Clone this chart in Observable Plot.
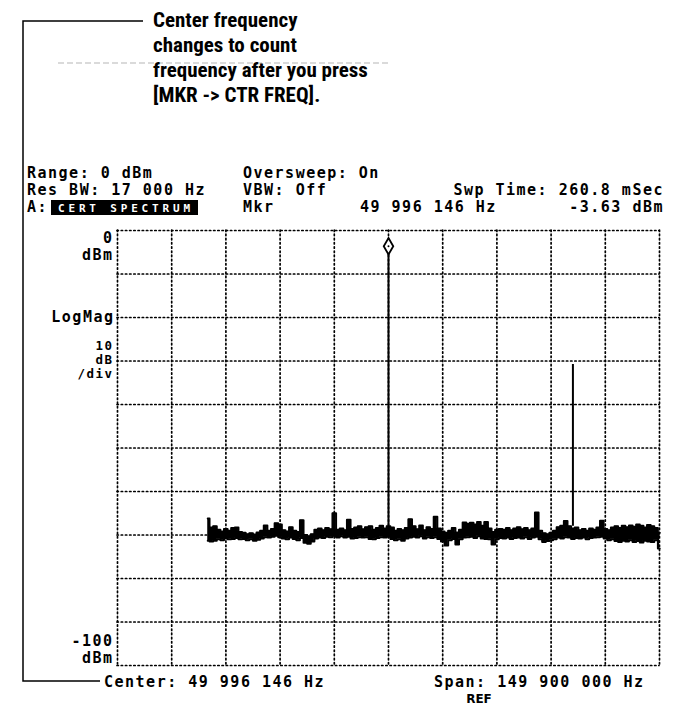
<!DOCTYPE html>
<html>
<head>
<meta charset="utf-8">
<script src="https://cdn.jsdelivr.net/npm/d3@7"></script>
<script src="https://cdn.jsdelivr.net/npm/@observablehq/plot@0.6"></script>
<style>
  html, body { margin: 0; padding: 0; background: #fff; }
  #chart { width: 683px; height: 706px; }
  .mono { font-family: "DejaVu Sans Mono", monospace; font-weight: bold; font-size: 15px; letter-spacing: 1.5px; }
  g[font-family^="DejaVu Sans Mono"] text { letter-spacing: 1.5px; }
</style>
</head>
<body>
<div id="chart"></div>
<script>
// ---- Instrument settings (from the screen) ----
const centerMHz = 49.996146;      // Center: 49 996 146 Hz
const spanMHz = 149.9;            // Span: 149 900 000 Hz
const refLevelDbm = 0;            // top of screen: 0 dBm
const dbPerDiv = 10;              // 10 dB /div
const yTicks = [0, -10, -20, -30, -40, -50, -60, -70, -80, -90, -100];

// ---- Annotation & screen texts ----
const noteLines = ["Center frequency", "changes to count", "frequency after you press", "[MKR -> CTR FREQ]."];
const headerLeft = ["Range: 0 dBm", "Res BW: 17 000 Hz", "A:"];
const headerMid = ["Oversweep: On", "VBW: Off", "Mkr"];
const traceName = "CERT SPECTRUM";
const swpTime = "Swp Time: 260.8 mSec";
const mkrFreq = "49 996 146 Hz";
const mkrLevel = "-3.63 dBm";
const footerCenter = "Center: 49 996 146 Hz";
const footerSpan = "Span: 149 900 000 Hz";
const footerRef = "REF";

// ---- Trace: sweep starts at 0 Hz, one sample per MHz ----
const sweepStartMHz = 0;
const sweepStepMHz = 1;
const noiseHiDbm = [-66.2,-68.3,-68.0,-68.8,-69.2,-68.6,-69.0,-68.4,-68.3,-69.3,
-69.5,-69.8,-69.6,-69.9,-69.4,-69.0,-67.8,-69.0,-68.6,-67.3,
-67.6,-68.9,-69.2,-68.2,-69.0,-69.3,-66.6,-70.0,-70.3,-69.8,
-68.8,-68.5,-68.9,-68.4,-68.7,-65.0,-68.8,-68.5,-68.9,-66.5,
-68.6,-68.3,-68.0,-68.7,-68.2,-68.0,-68.8,-68.4,-67.9,-68.5,
-68.0,-68.3,-69.0,-68.6,-68.9,-68.4,-66.4,-68.0,-68.7,-67.8,
-68.9,-68.2,-68.6,-65.8,-68.5,-69.2,-69.5,-69.0,-68.4,-69.4,
-68.8,-67.1,-67.4,-67.2,-67.6,-67.0,-67.9,-67.0,-68.5,-69.3,
-68.8,-68.6,-68.8,-68.4,-68.9,-68.5,-68.2,-68.7,-68.4,-68.9,
-68.5,-64.8,-69.0,-69.6,-69.8,-69.5,-69.0,-68.2,-67.9,-66.8,
-68.0,-68.5,-68.3,-68.9,-68.6,-69.0,-68.5,-68.8,-68.3,-66.7,
-68.6,-68.9,-68.3,-68.0,-68.4,-67.9,-68.2,-67.8,-68.1,-67.6,
-67.9,-68.3,-67.7,-68.0,-68.4,-69.5];
const noiseLoDbm = [-71.3,-71.5,-71.3,-71.0,-71.2,-70.8,-71.0,-70.9,-70.7,-71.0,
-70.9,-71.2,-71.0,-71.3,-71.1,-70.8,-70.5,-70.6,-70.4,-70.2,
-70.5,-70.8,-71.0,-70.6,-70.9,-71.2,-70.7,-71.8,-72.0,-71.5,
-70.8,-70.6,-70.7,-70.4,-70.5,-70.2,-70.6,-70.3,-70.6,-70.4,
-70.8,-70.7,-70.5,-70.6,-70.5,-70.9,-71.0,-70.7,-70.5,-70.6,
-70.4,-70.9,-71.2,-71.0,-71.3,-70.8,-70.6,-70.4,-70.6,-70.3,
-70.8,-70.5,-70.7,-70.5,-70.9,-71.5,-72.4,-71.2,-70.9,-72.2,
-71.0,-70.6,-70.5,-70.4,-70.7,-70.3,-70.8,-70.9,-71.0,-72.2,
-71.0,-70.7,-70.8,-70.6,-70.9,-70.7,-70.6,-70.8,-70.5,-70.9,
-70.6,-70.4,-71.0,-71.6,-71.4,-71.2,-71.0,-70.6,-70.8,-70.5,
-70.6,-70.9,-70.7,-70.8,-70.6,-71.0,-70.7,-70.6,-70.5,-70.4,
-70.8,-71.2,-71.0,-71.4,-71.6,-71.3,-71.5,-71.2,-71.6,-71.4,
-71.7,-71.3,-71.5,-71.6,-71.2,-73.1];

// ---- Signal peaks ----
const peakFreqMHz = [49.996146, 101.0];
const peakLevelDbm = [-3.63, -30.8];
const peakBaseDbm = [-68.0, -68.0];

// ---- Build tables ----
const noise = noiseHiDbm.map((hi, i) => ({f: sweepStartMHz + i * sweepStepMHz, hi, lo: noiseLoDbm[i]}));
const peaks = peakFreqMHz.map((f, i) => ({f, level: peakLevelDbm[i], base: peakBaseDbm[i]}));
const xDomain = [centerMHz - spanMHz / 2, centerMHz + spanMHz / 2];
const xGrid = d3.range(11).map(k => xDomain[0] + k * spanMHz / 10);
const yDomain = [refLevelDbm - 10 * dbPerDiv, refLevelDbm];

const W = 683, H = 706;
const mono = "DejaVu Sans Mono";
const dots = "1.4,2.8";

const svg = Plot.plot({
  width: W, height: H,
  marginLeft: 117, marginRight: 24, marginTop: 230, marginBottom: 41,
  x: {domain: xDomain, axis: null},
  y: {domain: yDomain, axis: null},
  style: {background: "#fff", color: "#000", fontFamily: mono, fontSize: "15px", fontWeight: "bold", overflow: "visible"},
  marks: [
    Plot.ruleX(xGrid, {stroke: "#000", strokeWidth: 1.7, strokeDasharray: dots, strokeLinecap: "round"}),
    Plot.ruleY(yTicks, {stroke: "#000", strokeWidth: 1.7, strokeDasharray: dots, strokeLinecap: "round"}),
    // noise band
    Plot.areaY(noise, {x: "f", y1: "lo", y2: "hi", curve: "step", fill: "#000"}),
    Plot.line(noise, {x: "f", y: "hi", curve: "step", stroke: "#000", strokeWidth: 2}),
    Plot.line(noise, {x: "f", y: "lo", curve: "step", stroke: "#000", strokeWidth: 2}),
    // peaks
    Plot.ruleX(peaks, {x: "f", y1: "base", y2: "level", stroke: "#000", strokeWidth: 2}),
    Plot.dot(peaks.slice(0, 1), {x: "f", y: "level", symbol: "diamond", r: 5, fill: "#fff", stroke: "#000", strokeWidth: 1.8}),
    Plot.dot(peaks.slice(0, 1), {x: "f", y: "level", r: 1, fill: "#000"}),
    // y labels
    Plot.text(["0\ndBm"], {x: xDomain[0], y: yTicks[0], text: d => d, textAnchor: "end", lineAnchor: "top", dx: -4, dy: 1, lineHeight: 1.1, fontFamily: mono, fontSize: 15, fontWeight: "bold"}),
    Plot.text(["LogMag"], {x: xDomain[0], y: yTicks[2], text: d => d, textAnchor: "end", lineAnchor: "middle", dx: -3, fontFamily: mono, fontSize: 15, fontWeight: "bold"}),
    Plot.text(["10\ndB\n/div"], {x: xDomain[0], y: yTicks[2], text: d => d, textAnchor: "end", lineAnchor: "top", dx: -4, dy: 22, lineHeight: 1.14, fontFamily: mono, fontSize: 12.5, fontWeight: "bold"}),
    Plot.text(["-100\ndBm"], {x: xDomain[0], y: yTicks[10], text: d => d, textAnchor: "end", lineAnchor: "bottom", dx: -4, dy: -3, lineHeight: 1.1, fontFamily: mono, fontSize: 15, fontWeight: "bold"})
  ]
});

document.getElementById("chart").appendChild(svg);

// ---- Screen header/footer and manual annotation ----
const s = d3.select(svg);
const g = s.append("g").attr("text-anchor", "start");

function monoText(txt, x, y, anchor = "start") {
  g.append("text").attr("class", "mono").attr("x", x).attr("y", y).attr("text-anchor", anchor).attr("fill", "#000").text(txt);
}
const rowY = [178, 195, 212];
headerLeft.forEach((t, i) => monoText(t, 27, rowY[i]));
headerMid.forEach((t, i) => monoText(t, 243, rowY[i]));
monoText(swpTime, 664, rowY[1], "end");
monoText(mkrFreq, 360, rowY[2]);
monoText(mkrLevel, 664, rowY[2], "end");
g.append("rect").attr("x", 51).attr("y", 200).attr("width", 147).attr("height", 15).attr("fill", "#000");
g.append("text").attr("x", 58).attr("y", 212).attr("text-anchor", "start").attr("fill", "#fff")
  .attr("font-family", mono).attr("font-size", 11).attr("textLength", 132).attr("lengthAdjust", "spacing").text(traceName);

monoText(footerCenter, 104, 687);
monoText(footerSpan, 434, 687);
g.append("text").attr("x", 479).attr("y", 703).attr("text-anchor", "middle").attr("font-family", "DejaVu Sans").attr("font-weight", "bold").attr("font-size", 12).attr("fill", "#000").text(footerRef);

// bracket
g.append("path").attr("d", "M143,21 H23 V681 H100").attr("fill", "none").attr("stroke", "#000").attr("stroke-width", 1.5);
// faint scan line
g.append("line").attr("x1", 58).attr("x2", 390).attr("y1", 63).attr("y2", 63).attr("stroke", "#b5b5b5").attr("stroke-width", 1).attr("stroke-dasharray", "6,3");

// note
const noteY = [27, 52, 77, 102];
noteLines.forEach((t, i) => {
  g.append("text").attr("x", 153).attr("y", noteY[i]).attr("text-anchor", "start")
    .attr("font-family", "'Liberation Sans Narrow', 'Roboto Condensed', 'Liberation Sans', sans-serif")
    .attr("font-size", 21).attr("font-weight", "bold").attr("fill", "#000").text(t);
});
</script>
</body>
</html>
